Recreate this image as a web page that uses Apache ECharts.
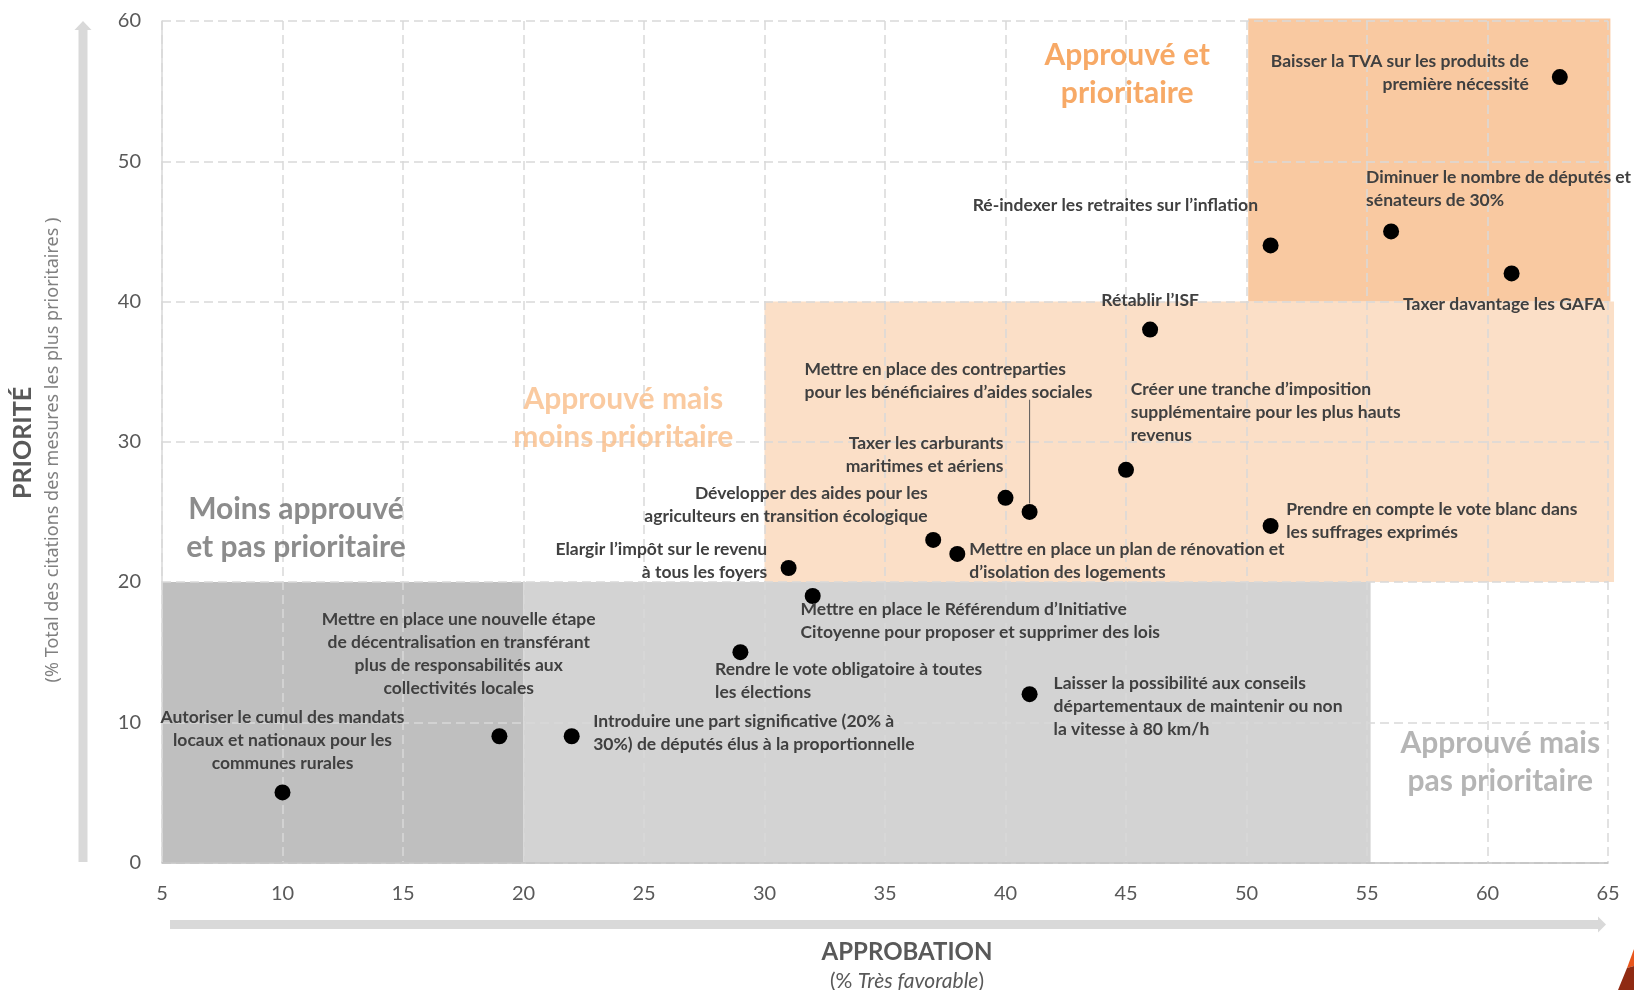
<!DOCTYPE html>
<html>
<head>
<meta charset="utf-8">
<script src="https://cdn.jsdelivr.net/npm/echarts@6/dist/echarts.min.js"></script>
<style>
html,body{margin:0;padding:0;background:#ffffff;}
#chart{width:1634px;height:990px;}
</style>
</head>
<body>
<div id="chart"></div>
<script>
// ---------- DATA ----------
const measures = [
  "Baisser la TVA sur les produits de\npremière nécessité",
  "Diminuer le nombre de députés et\nsénateurs de 30%",
  "Ré-indexer les retraites sur l’inflation",
  "Taxer davantage les GAFA",
  "Rétablir l’ISF",
  "Créer une tranche d’imposition\nsupplémentaire pour les plus hauts\nrevenus",
  "Taxer les carburants\nmaritimes et aériens",
  "Mettre en place des contreparties\npour les bénéficiaires d’aides sociales",
  "Développer des aides pour les\nagriculteurs en transition écologique",
  "Mettre en place un plan de rénovation et\nd’isolation des logements",
  "Prendre en compte le vote blanc dans\nles suffrages exprimés",
  "Elargir l’impôt sur le revenu\nà tous les foyers",
  "Mettre en place le Référendum d’Initiative\nCitoyenne pour proposer et supprimer des lois",
  "Rendre le vote obligatoire à toutes\nles élections",
  "Laisser la possibilité aux conseils\ndépartementaux de maintenir ou non\nla vitesse à 80 km/h",
  "Introduire une part significative (20% à\n30%) de députés élus à la proportionnelle",
  "Mettre en place une nouvelle étape\nde décentralisation en transférant\nplus de responsabilités aux\ncollectivités locales",
  "Autoriser le cumul des mandats\nlocaux et nationaux pour les\ncommunes rurales"
];
const approbation = [63, 56, 51, 61, 46, 45, 40, 41, 37, 38, 51, 31, 32, 29, 41, 22, 19, 10];
const priorite    = [56, 45, 44, 42, 38, 28, 26, 25, 23, 22, 24, 21, 19, 15, 12,  9,  9,  5];

// leader line for "contreparties" label (data values)
const leaderApprobation = [41, 41];
const leaderPriorite = [25.6, 33];

// zone backgrounds (data values)
const zoneX0 = [5, 20, 30, 50.07];
const zoneX1 = [20, 55.15, 65.25, 65.1];
const zoneY0 = [0, 0, 20, 40];
const zoneY1 = [20, 20, 40, 60.17];

// zone titles
const zoneTitles = ["Approuvé et\nprioritaire", "Approuvé mais\nmoins prioritaire", "Moins approuvé\net pas prioritaire", "Approuvé mais\npas prioritaire"];
const zoneTitleX = [45.05, 24.14, 10.56, 60.53];
const zoneTitleY = [56.2, 31.65, 23.84, 7.13];

// axes
const xMin = 5, xMax = 65, xStep = 5;
const yMin = 0, yMax = 60, yStep = 10;

// ---------- STYLES ----------
const zoneColors = ["#bfbfbf", "#d3d3d3", "#fbdfc7", "#f9c9a1"];
const zoneTitleColors = ["#f59340", "#f9bd88", "#6f6f6f", "#a3a3a3"];
// [align, dx, dy] relative to point centre
const labelPlacement = [
  ["right", -31, -4],
  ["left", -25, -43],
  ["right", -12.6, -40],
  ["right", 93.4, 31],
  ["center", 0, -29],
  ["left", 4.8, -57],
  ["right", -2, -43.4],
  ["left", -225, -131.3],
  ["right", -5.5, -35.4],
  ["left", 12, 6.8],
  ["left", 15.6, -5.3],
  ["right", -21.4, -6.7],
  ["left", -12.2, 25.2],
  ["left", -25.3, 29],
  ["left", 24, 12.4],
  ["left", 21.5, -3.7],
  ["center", -40.7, -82.3],
  ["center", 0, -52]
];

const FONT = "Lato, 'Noto Sans', sans-serif";

const pointData = measures.map((m, i) => ({
  value: [approbation[i], priorite[i]],
  name: m,
  label: {
    show: true,
    position: "inside",
    formatter: m,
    align: labelPlacement[i][0],
    verticalAlign: "middle",
    offset: [labelPlacement[i][1], labelPlacement[i][2]],
    color: "#404040",
    fontFamily: FONT,
    fontWeight: "bold",
    fontSize: 17.5,
    lineHeight: 23,
    textBorderWidth: 0
  }
}));

const zoneData = zoneX0.map((x0, i) => [x0, zoneX1[i], zoneY0[i], zoneY1[i]]);

const zoneTitleData = zoneTitles.map((t, i) => ({
  value: [zoneTitleX[i], zoneTitleY[i]],
  label: {
    show: true,
    position: "inside",
    formatter: t,
    align: "center",
    verticalAlign: "middle",
    color: zoneTitleColors[i],
    fontFamily: FONT,
    fontWeight: "bold",
    fontSize: 30,
    lineHeight: 38,
    textBorderWidth: 0
  }
}));

const chart = echarts.init(document.getElementById("chart"), null, {renderer: "canvas"});

const option = {
  backgroundColor: "#ffffff",
  animation: false,
  grid: {left: 162, right: 26, top: 21, bottom: 127.5, outerBoundsMode: "none", containLabel: false},
  xAxis: {
    type: "value", min: xMin, max: xMax, interval: xStep, z: 0,
    axisLine: {show: true, lineStyle: {color: "#bfbfbf", width: 1.5}},
    axisTick: {show: false},
    axisLabel: {color: "#595959", fontFamily: FONT, fontSize: 20, margin: 21},
    splitLine: {show: true, lineStyle: {color: "#d9d9d9", width: 1.5, type: [9, 5]}}
  },
  yAxis: {
    type: "value", min: yMin, max: yMax, interval: yStep, z: 0,
    axisLine: {show: true, lineStyle: {color: "#d9d9d9", width: 1.5}},
    axisTick: {show: false},
    axisLabel: {color: "#595959", fontFamily: FONT, fontSize: 20, margin: 21},
    splitLine: {show: true, lineStyle: {color: "#d9d9d9", width: 1.5, type: [9, 5]}}
  },
  series: [
    {
      type: "custom",
      z: -1,
      silent: true,
      clip: false,
      encode: {x: [0, 1], y: [2, 3]},
      data: zoneData,
      renderItem: function (params, api) {
        const p0 = api.coord([api.value(0), api.value(3)]);
        const p1 = api.coord([api.value(1), api.value(2)]);
        return {
          type: "rect",
          shape: {x: p0[0], y: p0[1], width: p1[0] - p0[0], height: p1[1] - p0[1]},
          style: {fill: zoneColors[params.dataIndex]}
        };
      }
    },
    {
      type: "scatter",
      z: 2,
      silent: true,
      symbolSize: 0,
      data: zoneTitleData
    },
    {
      type: "line",
      z: 3,
      silent: true,
      symbol: "none",
      lineStyle: {color: "#595959", width: 1},
      data: leaderApprobation.map((x, i) => [x, leaderPriorite[i]])
    },
    {
      type: "scatter",
      z: 4,
      silent: true,
      symbol: "circle",
      symbolSize: 16,
      itemStyle: {color: "#000000", opacity: 1},
      data: pointData
    }
  ],
  graphic: [
    // vertical arrow
    {type: "rect", silent: true, shape: {x: 78.5, y: 29, width: 9, height: 833}, style: {fill: "#d9d9d9"}},
    {type: "polygon", silent: true, shape: {points: [[74.5, 30], [91.5, 30], [83, 21]]}, style: {fill: "#d9d9d9"}},
    // horizontal arrow
    {type: "rect", silent: true, shape: {x: 170, y: 920, width: 1429, height: 9}, style: {fill: "#d9d9d9"}},
    {type: "polygon", silent: true, shape: {points: [[1598, 916.5], [1598, 932.5], [1606, 924.5]]}, style: {fill: "#d9d9d9"}},
    // y title
    {type: "text", silent: true, x: 23, y: 443, rotation: Math.PI / 2,
      style: {text: "PRIORITÉ", fill: "#595959", font: "bold 25px " + FONT, align: "center", verticalAlign: "middle"}},
    {type: "text", silent: true, x: 53, y: 450, rotation: Math.PI / 2,
      style: {text: "(% Total des citations des mesures les plus prioritaires )", fill: "#808080", font: "18px 'Noto Sans', sans-serif", align: "center", verticalAlign: "middle"}},
    // x title
    {type: "text", silent: true, x: 907, y: 952,
      style: {text: "APPROBATION", fill: "#595959", font: "bold 24px " + FONT, align: "center", verticalAlign: "middle"}},
    {type: "text", silent: true, x: 907, y: 981,
      style: {
        text: "{n|(% }{i|Très favorable}{n|)}",
        align: "center", verticalAlign: "middle",
        rich: {
          n: {fill: "#595959", fontFamily: FONT, fontSize: 21},
          i: {fill: "#595959", fontFamily: FONT, fontSize: 21, fontStyle: "italic"}
        }
      }},
    // corner logo fragment
    {type: "polygon", silent: true, shape: {points: [[1634, 949], [1634, 966], [1627, 968]]}, style: {fill: "#e8561c"}},
    {type: "polygon", silent: true, shape: {points: [[1627, 968], [1634, 966], [1634, 990], [1618, 990]]}, style: {fill: "#8f2a12"}}
  ]
};

chart.setOption(option);
</script>
</body>
</html>
